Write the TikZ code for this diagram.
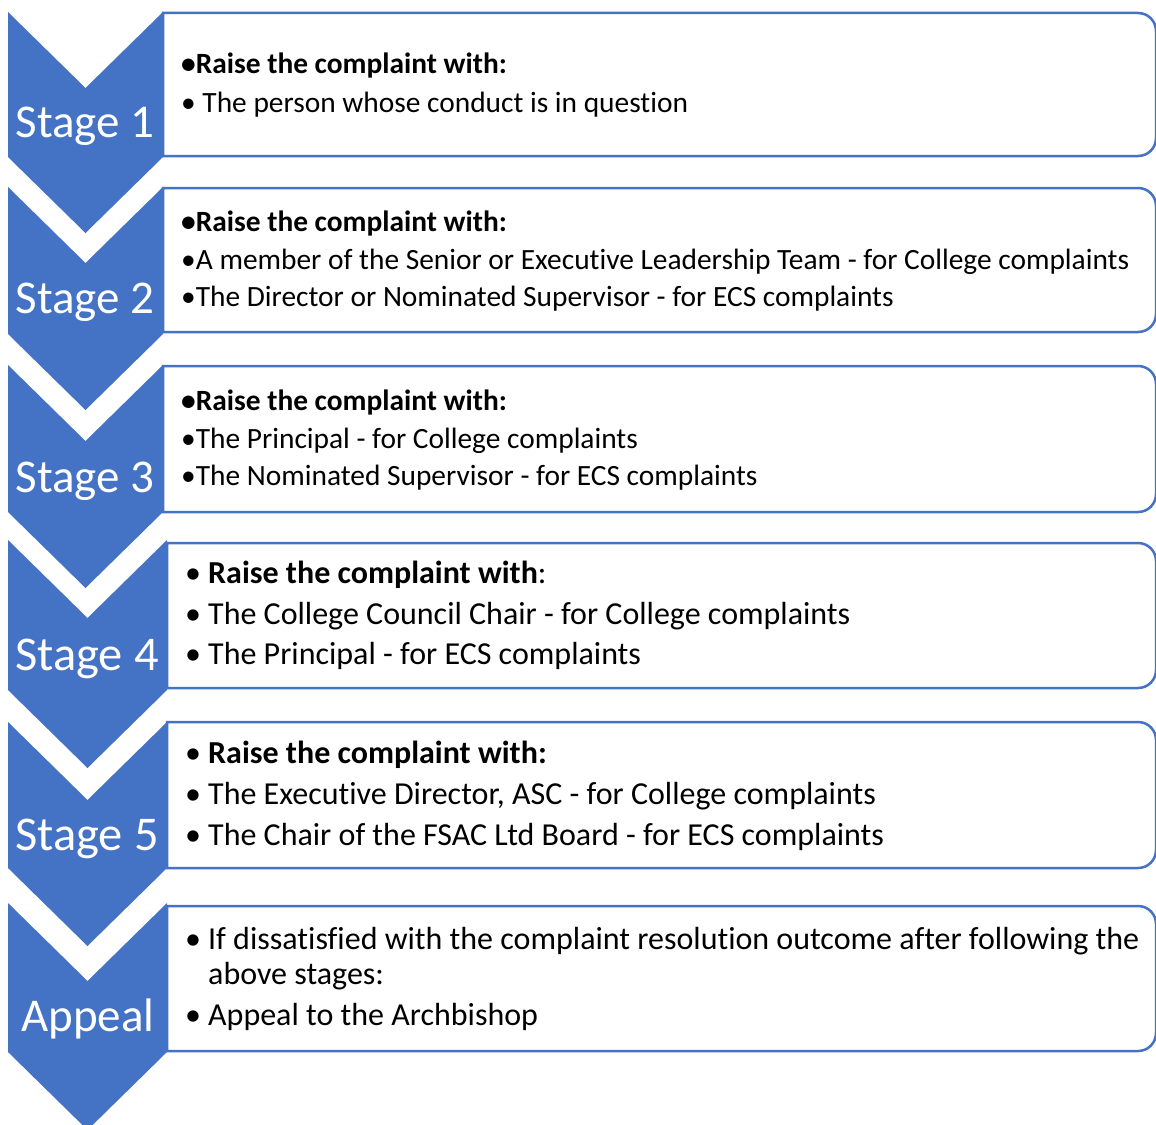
\documentclass[tikz,border=0pt]{standalone}
\usepackage{fontspec}
\setmainfont{Carlito}[Ligatures=NoCommon]
\definecolor{ofblue}{HTML}{4472C4}
\newcommand\panelbox[3]{%
  \path[panel] (#1,#2) -- (1138,#2) .. controls (1148,#2) and (1156,#2+8) .. (1156,#2+18)
    -- (1156,#3-18) .. controls (1156,#3-8) and (1148,#3) .. (1138,#3) -- (#1,#3) -- cycle;}
\newcommand\chevronshape[4]{%
  \fill[chev] (8,#1) -- ({(8+#3)/2},#1+#4) -- (#3,#1) -- (#3,#2) -- ({(8+#3)/2},#2+#4) -- (8,#2) -- cycle;}
\begin{document}
\begin{tikzpicture}[x=1pt,y=-1pt,
  chev/.style={fill=ofblue,draw=none},
  panel/.style={fill=white,draw=ofblue,line width=2.5pt},
  stagelabel/.style={text=white,font=\fontsize{47}{50}\selectfont,anchor=base,inner sep=0pt},
  biglabel/.style={stagelabel,font=\fontsize{48.5}{52}\selectfont},
  smalltxt/.style={anchor=base west,inner sep=0pt,font=\fontsize{29.4}{35}\selectfont},
  largetxt/.style={anchor=base west,inner sep=0pt,font=\fontsize{32}{38}\selectfont}]
\useasboundingbox (0,0) rectangle (1156,1124);
% panels
\panelbox{163}{13}{156}
\panelbox{163}{188}{332}
\panelbox{163}{366}{512}
\panelbox{167}{543}{688}
\panelbox{167}{722}{868}
\panelbox{167}{906}{1051}
% chevrons
\chevronshape{12}{157}{163}{76}
\chevronshape{187}{334}{163}{76}
\chevronshape{365}{512}{163}{76}
\chevronshape{540}{690}{167}{78}
\chevronshape{722}{868}{167}{78}
\chevronshape{903}{1052}{167}{78}
% stage labels
\node[stagelabel] (l1) at (85,137) {Stage 1};
\node[stagelabel] (l2) at (85,313) {Stage 2};
\node[stagelabel] (l3) at (85,492) {Stage 3};
\node[biglabel] (l4) at (87,670) {Stage 4};
\node[biglabel] (l5) at (87,850) {Stage 5};
\node[stagelabel] (l6) at (88,1031) {Appeal};
% stage 1
\node[smalltxt] (t1a) at (181,74) {\textbf{•Raise the complaint with:}};
\node[smalltxt] (t1b) at (181,112) {• The person whose conduct is in question};
% stage 2
\node[smalltxt] (t2a) at (181,231) {\textbf{•Raise the complaint with:}};
\node[smalltxt] (t2b) at (181,269) {•A member of the Senior or Executive Leadership Team - for College complaints};
\node[smalltxt] (t2c) at (181,306) {•The Director or Nominated Supervisor - for ECS complaints};
% stage 3
\node[smalltxt] (t3a) at (181,410) {\textbf{•Raise the complaint with:}};
\node[smalltxt] (t3b) at (181,448) {•The Principal - for College complaints};
\node[smalltxt] (t3c) at (181,485) {•The Nominated Supervisor - for ECS complaints};
% stage 4
\node[largetxt] (t4a) at (185,583) {\makebox[23pt][l]{•}\textbf{Raise the complaint with}:};
\node[largetxt] (t4b) at (185,624) {\makebox[23pt][l]{•}The College Council Chair - for College complaints};
\node[largetxt] (t4c) at (185,664) {\makebox[23pt][l]{•}The Principal - for ECS complaints};
% stage 5
\node[largetxt] (t5a) at (185,763) {\makebox[23pt][l]{•}\textbf{Raise the complaint with:}};
\node[largetxt] (t5b) at (185,804) {\makebox[23pt][l]{•}The Executive Director, ASC - for College complaints};
\node[largetxt] (t5c) at (185,845) {\makebox[23pt][l]{•}The Chair of the FSAC Ltd Board - for ECS complaints};
% appeal
\node[largetxt] (t6a) at (185,949) {\makebox[23pt][l]{•}If dissatisfied with the complaint resolution outcome after following the};
\node[largetxt] (t6b) at (208,984) {above stages:};
\node[largetxt] (t6c) at (185,1025) {\makebox[23pt][l]{•}Appeal to the Archbishop};
\end{tikzpicture}
\end{document}
